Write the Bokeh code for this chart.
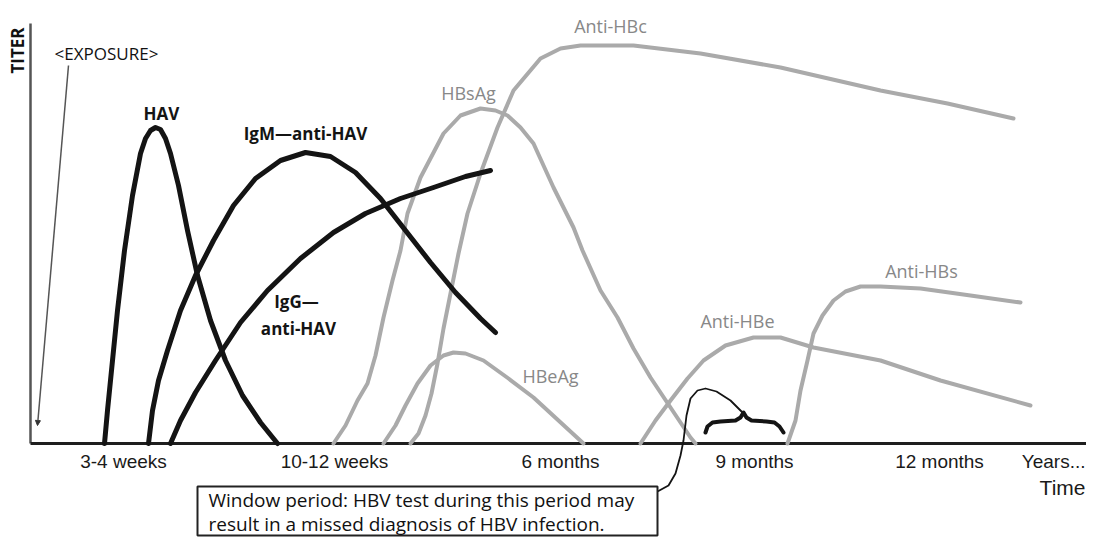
from bokeh.plotting import figure
from bokeh.models import Range1d, Arrow, NormalHead
from bokeh.core.properties import value
from bokeh.embed import file_html
from bokeh.resources import INLINE

# ---- data (x = time position, y = titer; 0 = time axis) ----
hav_x = [104, 107, 111, 117, 124, 132, 140, 145, 150, 155, 160, 165, 170, 178, 187, 197, 210, 225, 242, 260, 277]
hav_y = [0, 33, 73, 133, 193, 248, 290, 305, 313, 316, 314, 305, 290, 258, 213, 168, 123, 83, 48, 21, 0]

igm_x = [148, 152, 158, 167, 180, 195, 213, 233, 255, 280, 305, 330, 355, 380, 405, 430, 455, 480, 495]
igm_y = [0, 33, 63, 93, 133, 168, 203, 238, 265, 283, 291, 287, 271, 245, 213, 181, 151, 125, 111]

igg_x = [170, 180, 195, 215, 240, 267, 300, 333, 365, 400, 433, 465, 490]
igg_y = [0, 23, 51, 83, 121, 153, 185, 211, 230, 245, 256, 267, 273]

hbsag_x = [333, 345, 357, 367, 375, 383, 392, 400, 407, 420, 443, 460, 480, 495, 507, 520, 533, 553, 573, 582, 600, 617, 633, 650, 670, 690, 695]
hbsag_y = [0, 18, 43, 60, 88, 126, 163, 193, 230, 266, 310, 328, 335, 333, 328, 316, 300, 256, 216, 193, 153, 126, 95, 66, 36, 6, 0]

antihbc_x = [410, 418, 425, 431, 437, 443, 450, 458, 467, 480, 497, 513, 540, 560, 580, 633, 700, 780, 880, 947, 1013]
antihbc_y = [0, 10, 28, 50, 80, 115, 150, 190, 230, 270, 316, 353, 385, 395, 398, 398, 390, 376, 353, 340, 325]

hbeag_x = [383, 395, 405, 417, 430, 443, 453, 465, 483, 508, 533, 558, 583]
hbeag_y = [0, 18, 38, 60, 78, 88, 91, 90, 83, 65, 46, 23, 0]

antihbe_x = [640, 655, 670, 687, 703, 725, 753, 780, 813, 880, 940, 1030]
antihbe_y = [0, 23, 43, 65, 83, 98, 106, 106, 96, 83, 63, 38]

antihbs_x = [787, 795, 800, 807, 813, 822, 833, 845, 860, 880, 920, 970, 1020]
antihbs_y = [0, 23, 53, 83, 110, 128, 143, 152, 157, 157, 155, 148, 141]

# time axis tick labels
tick_pos = [123, 334, 560, 754, 939]
tick_labels = ["3-4 weeks", "10-12 weeks", "6 months", "9 months", "12 months"]
last_tick = "Years..."

# window period annotation
bracket_x = [705, 707, 712, 720, 735, 740, 743, 746, 751, 766, 774, 779, 783]
bracket_y = [11, 17, 21, 22, 23, 26, 31, 26, 23, 22, 21, 17, 11]
connector_x = [657, 668, 675, 680, 683, 686, 690, 697, 705, 716, 730, 743]
connector_y = [-48, -42, -30, -12, 3, 28, 45, 53, 55, 52, 43, 30]
note_lines = ["Window period: HBV test during this period may",
              "result in a missed diagnosis of HBV infection."]

BLACK = "#141414"
GRAY = "#aaaaaa"
GRAY_TXT = "#888888"

p = figure(width=1086, height=537, x_range=Range1d(0, 1086), y_range=Range1d(-94, 443),
           output_backend="svg", toolbar_location=None, min_border=0)
p.axis.visible = False
p.grid.visible = False
p.outline_line_color = None
p.background_fill_color = "white"
p.border_fill_color = "white"

# axes
p.line([30, 30], [0, 420], line_color="#555555", line_width=2.5)
p.line([30, 1090], [0, 0], line_color="#1e1e1e", line_width=3)

# gray hepatitis B curves
for xs, ys in [(hbsag_x, hbsag_y), (antihbc_x, antihbc_y), (hbeag_x, hbeag_y),
               (antihbe_x, antihbe_y), (antihbs_x, antihbs_y)]:
    p.line(xs, ys, line_color=GRAY, line_width=4, line_join="round", line_cap="round")

# black hepatitis A curves
for xs, ys in [(hav_x, hav_y), (igm_x, igm_y), (igg_x, igg_y)]:
    p.line(xs, ys, line_color=BLACK, line_width=5, line_join="round", line_cap="round")

# window period bracket + connector + note box
p.line(bracket_x, bracket_y, line_color=BLACK, line_width=4, line_join="round", line_cap="round")
p.line(connector_x, connector_y, line_color=BLACK, line_width=1.8, line_join="round")
p.quad(left=[197], right=[657], top=[-43], bottom=[-92], fill_color="white",
       line_color="#222222", line_width=2)
p.text(x=[208, 208], y=[-56, -80], text=note_lines, text_font=value("Open Sans"),
       text_font_size=value("19px"), text_color="#111111", text_align="left",
       text_baseline="middle")

# exposure arrow
p.add_layout(Arrow(x_start=68, y_start=378, x_end=37, y_end=18, line_color="#555555",
                   line_width=1.5,
                   end=NormalHead(size=5, fill_color="#333333", line_color="#333333")))
p.text(x=[106], y=[390], text=["<EXPOSURE>"], text_font=value("Open Sans"),
       text_font_size=value("17px"), text_color="#111111", text_align="center",
       text_baseline="middle")

# TITER label
p.text(x=[17], y=[393], text=["TITER"], angle=1.5708, text_font=value("Open Sans"),
       text_font_size=value("17px"), text_font_style="bold", text_color="#111111",
       text_align="center", text_baseline="middle")

# tick labels and axis title
p.text(x=tick_pos, y=[-18] * len(tick_pos), text=tick_labels, text_font=value("Liberation Sans"),
       text_font_size=value("19px"), text_color="#1a1a1a", text_align="center",
       text_baseline="middle")
p.text(x=[1085], y=[-18], text=[last_tick], text_font=value("Liberation Sans"),
       text_font_size=value("19px"), text_color="#1a1a1a", text_align="right",
       text_baseline="middle")
p.text(x=[1085], y=[-44], text=["Time"], text_font=value("Liberation Sans"),
       text_font_size=value("21px"), text_color="#1a1a1a", text_align="right",
       text_baseline="middle")

# series labels
p.text(x=[161, 305, 296, 298], y=[330, 310, 142, 115],
       text=["HAV", "IgM\u2014anti-HAV", "IgG\u2014", "anti-HAV"],
       text_font=value("Open Sans"), text_font_size=value("17px"), text_font_style="bold",
       text_color=BLACK, text_align="center", text_baseline="middle")
p.text(x=[468, 610, 550, 737, 921], y=[351, 418, 68, 123, 173],
       text=["HBsAg", "Anti-HBc", "HBeAg", "Anti-HBe", "Anti-HBs"],
       text_font=value("Open Sans"), text_font_size=value("18px"),
       text_color=GRAY_TXT, text_align="center", text_baseline="middle")

open("out.html", "w").write(file_html(p, INLINE))
